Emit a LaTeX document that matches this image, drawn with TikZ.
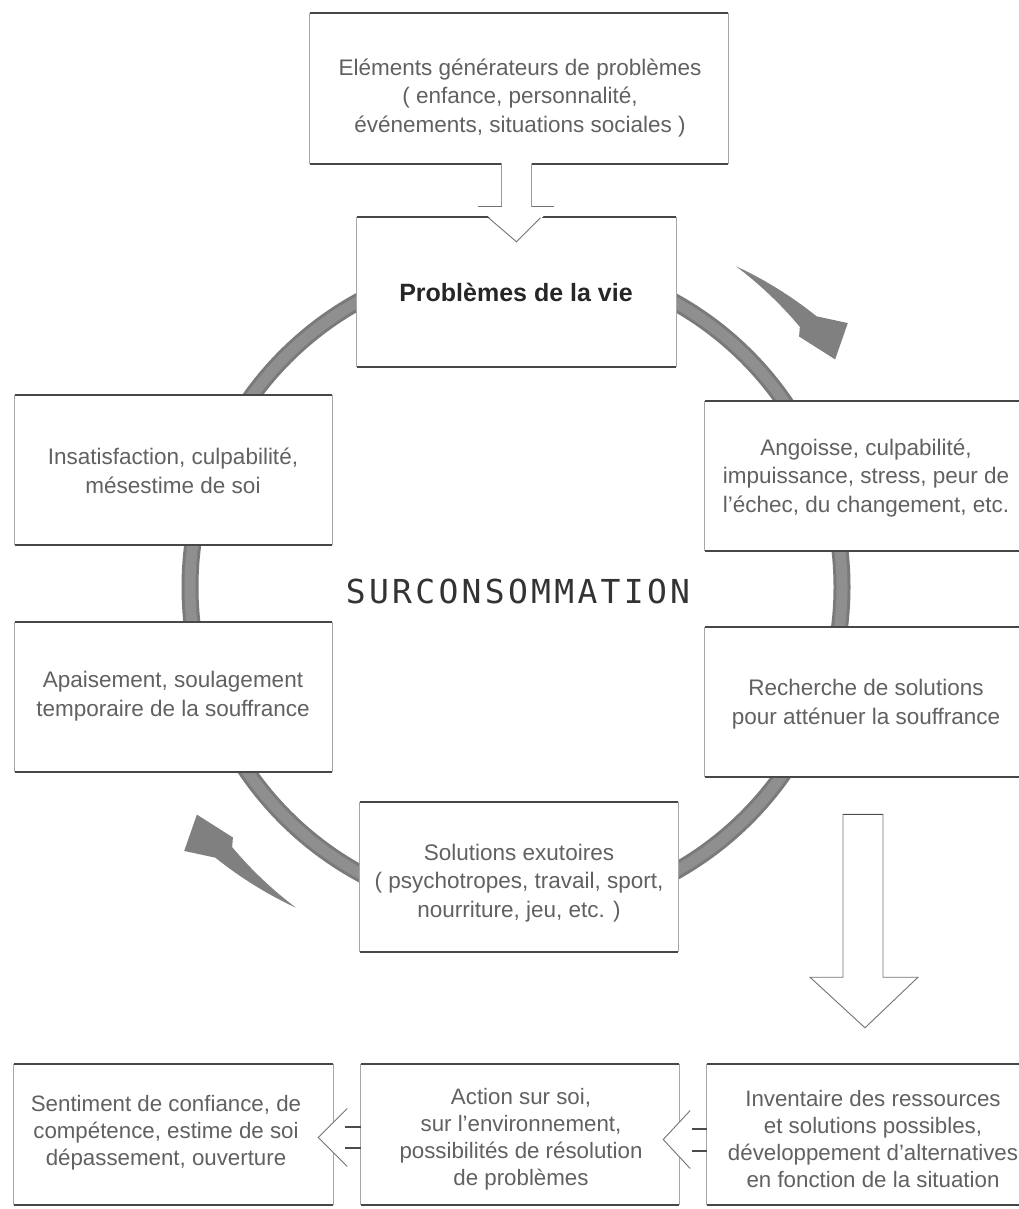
\documentclass[tikz,border=0pt]{standalone}
\usepackage{fontspec}
\setmainfont{Liberation Sans}
\newfontfamily\surfont[LetterSpace=10]{DejaVu Sans Mono}
\usetikzlibrary{calc}
\begin{document}
\begin{tikzpicture}[x=1pt,y=1pt,
  boxshape/.style={rectangle, fill=white, draw=none, inner sep=0pt, minimum height=150},
  txt/.style={align=center, text=black!62, font=\fontsize{22.5}{28.5}\selectfont, inner sep=0pt},
  btxt/.style={txt, font=\fontsize{22.3}{27}\selectfont},
  side/.style={draw=black!35, line width=0.8pt},
  hline/.style={draw=black!72, line width=1.8pt},
  ringA/.style={draw=black!52, line width=17pt},
  ringB/.style={draw=black!44, line width=11pt},
  blockarrow/.style={draw=black!55, line width=0.9pt, line join=miter},
  swoosh/.style={fill=black!50}]
\clip (0,0) rectangle (1019,-1209);
\fill[white] (0,0) rectangle (1019,-1209);

% ring
\coordinate (C) at (516,-587);
\draw[ringA] (C) circle[radius=326];
\draw[ringB] (C) circle[radius=326];

% curved outer arrows
\foreach \r in {0,180}{
\begin{scope}[shift={(C)}, rotate=\r]
\fill[swoosh] (55.5:389) -- plot[domain=55.5:42,samples=25] (\x:{389+(55.5-\x)*1.15})
  -- (38.5:424) -- (35.5:392) -- (41.5:378)
  -- plot[domain=42.5:55.5,samples=25] (\x:{385+(\x-42.5)*0.3}) -- cycle;
\end{scope}
}

% boxes
\node[boxshape, minimum width=418] (top) at (519,-88.5) {};
\node[boxshape, minimum width=319] (prob) at (516.5,-292) {};
\node[boxshape, minimum width=317] (left1) at (173.5,-470) {};
\node[boxshape, minimum width=317] (left2) at (173.5,-697) {};
\node[boxshape, minimum width=322] (right1) at (866,-476) {};
\node[boxshape, minimum width=322] (right2) at (866,-702) {};
\node[boxshape, minimum width=318] (sol) at (519,-877) {};
\node[boxshape, minimum width=319, minimum height=141] (b1) at (173.5,-1134.5) {};
\node[boxshape, minimum width=318, minimum height=141] (b2) at (520,-1134.5) {};
\node[boxshape, minimum width=330, minimum height=141] (b3) at (872,-1134.5) {};

\foreach \b in {top,prob,left1,left2,right1,right2,sol,b1,b2,b3}{
  \draw[side] (\b.north west) -- (\b.south west) (\b.north east) -- (\b.south east);
  \draw[hline] (\b.north west) -- (\b.north east) (\b.south west) -- (\b.south east);
}

% top block arrow (top -> prob)
\coordinate (ta) at (top.south -| prob.north);
\coordinate (tb) at ($(prob.north)+(0,-25)$);
\fill[white] ($(ta)+(-15,3)$) -- ($(ta)+(-15,-43)$) -- ($(ta)+(-39,-43)$) -- (tb)
  -- ($(ta)+(37,-43)$) -- ($(ta)+(15,-43)$) -- ($(ta)+(15,3)$) -- cycle;
\draw[blockarrow, draw=black!40] ($(ta)+(-15,0)$) -- ($(ta)+(-15,-43)$);
\draw[blockarrow, draw=black!40] ($(ta)+(15,0)$) -- ($(ta)+(15,-43)$);
\draw[blockarrow, line width=1.3pt] ($(ta)+(-15,-43)$) -- ($(ta)+(-39,-43)$)
  ($(ta)+(15,-43)$) -- ($(ta)+(37,-43)$);
\draw[blockarrow] ($(prob.north)+(-28,-1)$) -- (tb) -- ($(prob.north)+(24,-1)$);

% big down arrow (right2 -> b3)
\coordinate (ra) at ($(right2.south)+(-3,-37)$);
\coordinate (rb) at ($(b3.north -| ra)+(2,36)$);
\filldraw[blockarrow, fill=white] ($(ra)+(-20,0)$) -- ($(ra)+(-20,-163)$) -- ($(ra)+(-53,-163)$)
  -- (rb) -- ($(ra)+(55,-163)$) -- ($(ra)+(20,-163)$) -- ($(ra)+(20,0)$) -- cycle;
\draw[blockarrow, line width=1.4pt, draw=black!70] ($(ra)+(-20,0)$) -- ($(ra)+(20,0)$);

% chevron arrows (b2 -> b1, b3 -> b2)
\coordinate (c1) at ($(b1.east)+(0,-3)$);
\fill[white] ($(c1)+(14,29)$) -- ($(c1)+(-15,0)$) -- ($(c1)+(14,-29)$) -- cycle;
\draw[blockarrow] ($(c1)+(14,29)$) -- ($(c1)+(-15,0)$) -- ($(c1)+(14,-29)$);
\draw[blockarrow, line width=1.4pt, draw=black!70] ($(b2.west)+(0,7.5)$) -- ($(b2.west)+(-16,7.5)$)
  ($(b2.west)+(0,-13.5)$) -- ($(b2.west)+(-16,-13.5)$);
\coordinate (c2) at ($(b2.east)+(0,-5)$);
\fill[white] ($(c2)+(11,29)$) -- ($(c2)+(-16,0)$) -- ($(c2)+(11,-29)$) -- cycle;
\draw[blockarrow] ($(c2)+(11,29)$) -- ($(c2)+(-16,0)$) -- ($(c2)+(11,-29)$);
\draw[blockarrow, line width=1.4pt, draw=black!70] ($(b3.west)+(0,5.5)$) -- ($(b3.west)+(-15,5.5)$)
  ($(b3.west)+(0,-16.5)$) -- ($(b3.west)+(-15,-16.5)$);

% texts
\node[txt] (ttop) at (520,-98) {Eléments générateurs de problèmes\\( enfance, personnalité,\\événements, situations sociales )};
\node[txt, text=black!85, font=\fontsize{25}{30}\selectfont\bfseries] (tprob) at (516,-292) {Problèmes de la vie};
\node[txt] (tleft1) at (173,-471) {Insatisfaction, culpabilité,\\mésestime de soi};
\node[txt] (tleft2) at (173,-696) {Apaisement, soulagement\\temporaire de la souffrance};
\node[txt] (tright1) at (866,-478) {Angoisse, culpabilité,\\impuissance, stress, peur de\\l'échec, du changement, etc.};
\node[txt] (tright2) at (866,-704) {Recherche de solutions\\pour atténuer la souffrance};
\node[txt] (tsol) at (519,-883) {Solutions exutoires\\( psychotropes, travail, sport,\\nourriture, jeu, etc. )};
\node[btxt] (tb1) at (166,-1133) {Sentiment de confiance, de\\compétence, estime de soi\\dépassement, ouverture};
\node[btxt] (tb2) at (521,-1139) {Action sur soi,\\sur l'environnement,\\possibilités de résolution\\de problèmes};
\node[btxt] (tb3) at (873,-1139) {Inventaire des ressources\\et solutions possibles,\\développement d'alternatives\\en fonction de la situation};
\node[inner sep=0pt, text=black!80, font=\fontsize{33}{36}\selectfont\surfont] (sur) at (518,-591) {SURCONSOMMATION};
\end{tikzpicture}
\end{document}
